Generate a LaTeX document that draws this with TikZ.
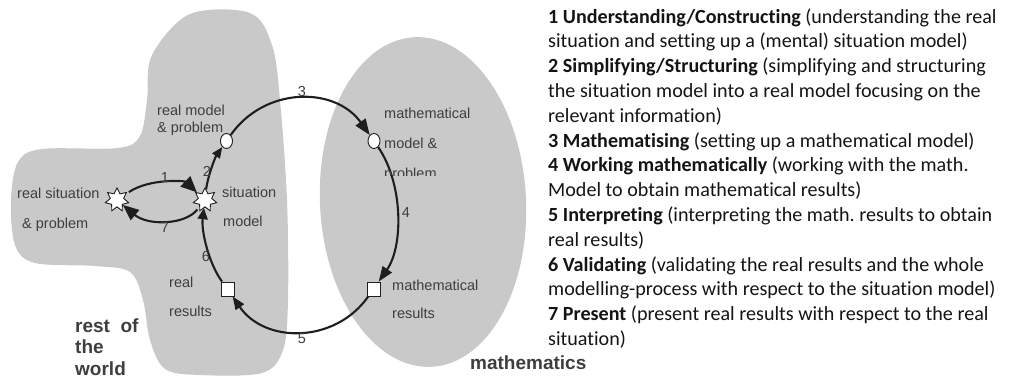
\documentclass[tikz,border=0pt]{standalone}
\usepackage{fontspec}
\setmainfont{Liberation Sans}
\newfontfamily\cali[Ligatures=NoCommon]{Carlito}
\usetikzlibrary{arrows.meta,shapes.geometric}
\definecolor{blobgray}{RGB}{201,201,201}
\definecolor{labgray}{RGB}{62,62,62}
\definecolor{arcgray}{RGB}{30,30,30}
\frenchspacing
\begin{document}
\begin{tikzpicture}[x=1pt,y=-1pt,
 lab/.style={font=\fontsize{14.5}{17}\selectfont, text=labgray, inner sep=0pt, anchor=base west},
 num/.style={font=\fontsize{14.5}{17}\selectfont, text=labgray, inner sep=0pt},
 big/.style={font=\bfseries\fontsize{19}{22}\selectfont, text=labgray, inner sep=0pt, anchor=base west},
 rt/.style={font=\cali\fontsize{20.1}{25}\selectfont, text=black!92, inner sep=0pt, anchor=base west},
 starnode/.style={star, star points=7, star point ratio=1.75, minimum size=24pt, inner sep=0pt, draw=arcgray, fill=white, line width=0.9pt},
 ovalnode/.style={ellipse, minimum width=12pt, minimum height=15pt, inner sep=0pt, draw=arcgray, fill=white, line width=0.9pt},
 boxnode/.style={rectangle, minimum width=13pt, minimum height=14pt, inner sep=0pt, draw=arcgray, fill=white, line width=0.9pt},
 flow/.style={draw=arcgray, line width=2.1pt},
]
\useasboundingbox (0,0) rectangle (1012,378);
% regions
\fill[blobgray] plot[smooth cycle, tension=0.55] coordinates {(190,14) (250,13) (272,45) (280,100) (287,200) (288,300) (283,350) (262,373) (200,375) (165,369) (150,340) (143,300) (130,272) (95,266) (35,263) (15,245) (11,200) (18,162) (42,149) (118,148) (140,136) (147,100) (152,55)};
\fill[blobgray, rotate around={3:(423,202)}] (423,202) ellipse [x radius=103, y radius=165];
% nodes
\node[ovalnode] (rm) at (226.5,141) {};
\node[ovalnode] (mm) at (374,141) {};
\node[boxnode] (mr) at (373.5,289) {};
\node[boxnode] (rr) at (227.5,289) {};
\node[starnode] (sm) at (205,200) {};
\node[starnode] (rs) at (117,200) {};
% connectors
\draw[flow, -{Triangle[length=11pt,width=9pt]}] (sm) .. controls (207.4,177.7) and (214.9,157.6) .. (rm);
\draw[flow, -{Triangle[length=16pt,width=12pt]}] (rm) .. controls (264.9,86.3) and (335.1,86.3) .. (mm);
\draw[flow, -{Triangle[length=15pt,width=11pt]}] (mm) .. controls (403.4,183.9) and (403.4,246.1) .. (mr);
\draw[flow, -{Triangle[length=13pt,width=10pt]}] (mr) .. controls (335.1,343.7) and (264.9,343.7) .. (rr);
\draw[flow, -{Triangle[length=11pt,width=10pt]}] (rr) .. controls (209,263.9) and (201.1,231.3) .. (sm);
\draw[flow, -{Triangle[length=16pt,width=14pt]}, shorten <=3pt] (rs) .. controls (150,178) and (185,181) .. (sm);
\draw[flow, -{Triangle[length=16pt,width=13pt]}, shorten <=3pt] (sm) .. controls (185,225) and (148,226) .. (rs);
% numbers
\node[num] (n1) at (165,178) {1};
\node[num] (n2) at (207,171) {2};
\node[num] (n3) at (302,92) {3};
\node[num] (n4) at (406,213) {4};
\node[num] (n5) at (302,339) {5};
\node[num] (n6) at (206,257) {6};
\node[num] (n7) at (165,228) {7};
% labels
\node[lab] (lrm1) at (157,115) {real model};
\node[lab] (lrm2) at (157,132) {\& problem};
\node[lab] (lrs1) at (17,198) {real situation};
\node[lab] (lrs2) at (22,228) {\& problem};
\node[lab] (lsm1) at (222,197) {situation};
\node[lab] (lsm2) at (223,226) {model};
\node[lab] (lrr1) at (169,287) {real};
\node[lab] (lrr2) at (169,316) {results};
\node[lab] (lmm1) at (384,118) {mathematical};
\node[lab] (lmm2) at (384,148) {model \&};
\begin{scope}
\clip (370,150) rectangle (460,175);
\node[lab] (lmm3) at (384,178) {problem};
\end{scope}
\node[lab] (lmr1) at (392,290) {mathematical};
\node[lab] (lmr2) at (392,318) {results};
\node[big] (w1) at (75,332) {rest\ \ of};
\node[big] (w2) at (75,353.5) {the};
\node[big] (w3) at (75,375) {world};
\node[big] (mt) at (470,369) {mathematics};
% legend
\node[rt] (t1) at (548,23) {\textbf{1 Understanding/Constructing} (understanding the real};
\node[rt] (t2) at (548,47.8) {situation and setting up a (mental) situation model)};
\node[rt] (t3) at (548,72.6) {\textbf{2 Simplifying/Structuring} (simplifying and structuring};
\node[rt] (t4) at (548,97.4) {the situation model into a real model focusing on the};
\node[rt] (t5) at (548,122.2) {relevant information)};
\node[rt] (t6) at (548,147) {\textbf{3 Mathematising} (setting up a mathematical model)};
\node[rt] (t7) at (548,171.8) {\textbf{4 Working mathematically} (working with the math.};
\node[rt] (t8) at (548,196.6) {Model to obtain mathematical results)};
\node[rt] (t9) at (548,221.4) {\textbf{5 Interpreting} (interpreting the math. results to obtain};
\node[rt] (t10) at (548,246.2) {real results)};
\node[rt] (t11) at (548,271) {\textbf{6 Validating} (validating the real results and the whole};
\node[rt] (t12) at (548,295.8) {modelling-process with respect to the situation model)};
\node[rt] (t13) at (548,320.6) {\textbf{7 Present} (present real results with respect to the real};
\node[rt] (t14) at (548,345.4) {situation)};
\end{tikzpicture}
\end{document}
